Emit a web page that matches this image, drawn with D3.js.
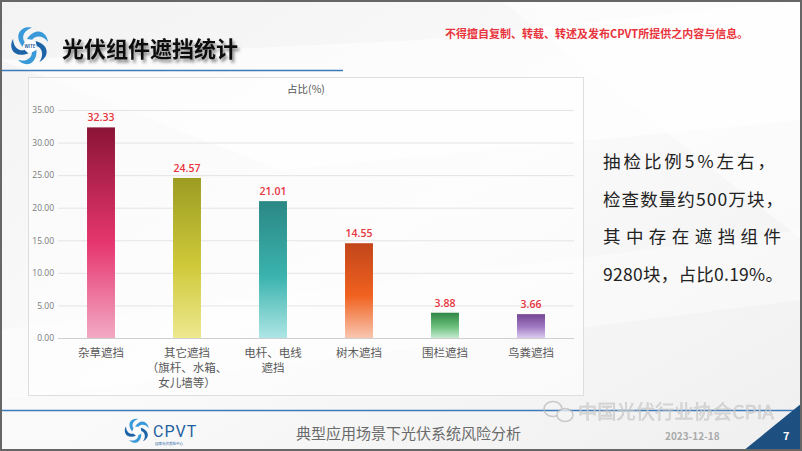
<!DOCTYPE html>
<html>
<head>
<meta charset="utf-8">
<script src="https://cdn.jsdelivr.net/npm/d3@7"></script>
<style>
  body { margin: 0; background: #fff; }
  svg { display: block; font-family: "Noto Sans CJK SC", "Noto Sans", sans-serif; }
</style>
</head>
<body>
<div id="chart"></div>
<script>
var categories = [
  ["杂草遮挡"],
  ["其它遮挡", "（旗杆、水箱、", "女儿墙等）"],
  ["电杆、电线", "遮挡"],
  ["树木遮挡"],
  ["围栏遮挡"],
  ["鸟粪遮挡"]
];
var values = [32.33, 24.57, 21.01, 14.55, 3.88, 3.66];
var yTicks = [0, 5, 10, 15, 20, 25, 30, 35];
var barColors = [
  ["#8a1436", "#e6366f", "#f2a9c4"],
  ["#9c9c22", "#cfc93a", "#eee890"],
  ["#2a8784", "#3bb3ae", "#aee6e5"],
  ["#c2461b", "#f0611f", "#f9c6b0"],
  ["#2f8646", "#6cbf7c", "#c4ead0"],
  ["#744593", "#a27cc4", "#dccbee"]
];
var noteLines = ["抽检比例5%左右，", "检查数量约500万块，", "其中存在遮挡组件", "9280块，占比0.19%。"];

var svgWidth = 802;
var svgHeight = 451;

var svg = d3.select("#chart")
  .append("svg")
  .attr("width", svgWidth)
  .attr("height", svgHeight);

var defs = svg.append("defs");

// page background
var bg = defs.append("linearGradient").attr("id", "bg")
  .attr("x1", "0").attr("y1", "0").attr("x2", "1").attr("y2", "1");
bg.append("stop").attr("offset", "0").attr("stop-color", "#f3f3f3");
bg.append("stop").attr("offset", "0.5").attr("stop-color", "#fafafa");
bg.append("stop").attr("offset", "1").attr("stop-color", "#efefef");

svg.append("rect").attr("width", svgWidth).attr("height", svgHeight).attr("fill", "url(#bg)");
svg.append("path").attr("d", "M0,60 L420,40 L802,0 L802,120 L280,170 Z").attr("fill", "#ffffff").attr("opacity", 0.6);
svg.append("path").attr("d", "M500,0 L802,0 L802,240 Z").attr("fill", "#ffffff").attr("opacity", 0.5);
svg.append("path").attr("d", "M0,330 L802,230 L802,300 L0,400 Z").attr("fill", "#ffffff").attr("opacity", 0.4);

// logo: ring of blue swirls
function drawLogo(g, s) {
  d3.range(5).forEach(function(i) {
    g.append("path")
      .attr("d", `M${-3*s},${-7*s} C${6*s},${-20*s} ${17*s},${-14*s} ${18*s},${-4*s} C${13*s},${-11*s} ${5*s},${-11*s} ${2*s},${-6*s} Z`)
      .attr("fill", i % 2 ? "#1d63a8" : "#3a9ad9")
      .attr("transform", "rotate(" + (i * 72) + ")");
  });
  g.append("circle").attr("r", 6.5 * s).attr("fill", "#fff");
}

var logo = svg.append("g").attr("transform", "translate(30,46)");
drawLogo(logo, 1);
logo.append("text").attr("text-anchor", "middle").attr("y", 2).attr("font-size", 4.5)
  .attr("font-weight", "bold").attr("fill", "#1f5f9f").text("WITE");

defs.append("filter").attr("id", "shadow")
  .append("feDropShadow").attr("dx", 2).attr("dy", 3).attr("stdDeviation", 1.5)
  .attr("flood-color", "#000").attr("flood-opacity", 0.45);

svg.append("text").attr("x", 62).attr("y", 57)
  .attr("font-size", 22).attr("font-weight", "bold").attr("fill", "#111")
  .attr("filter", "url(#shadow)")
  .text("光伏组件遮挡统计");

svg.append("line").attr("x1", 0).attr("x2", 343).attr("y1", 70.5).attr("y2", 70.5)
  .attr("stroke", "#3d7ab8").attr("stroke-width", 1.5);

svg.append("text").attr("x", 445).attr("y", 38)
  .attr("font-size", 11).attr("font-weight", "bold").attr("fill", "#e8343c")
  .text("不得擅自复制、转载、转述及发布CPVT所提供之内容与信息。");

// chart panel
svg.append("rect").attr("x", 28.5).attr("y", 77.5).attr("width", 555).attr("height", 318)
  .attr("fill", "#ffffff").attr("fill-opacity", 0.55).attr("stroke", "#dedede");

var plot = { left: 58, right: 574, top: 110, bottom: 338 };

var x = d3.scaleBand()
  .domain(d3.range(categories.length))
  .range([plot.left, plot.right])
  .paddingInner(0.675)
  .paddingOuter(0.3375);

var y = d3.scaleLinear()
  .domain([0, 35])
  .range([plot.bottom, plot.top]);

var yAxis = d3.axisLeft(y)
  .tickValues(yTicks)
  .tickSize(-(plot.right - plot.left))
  .tickPadding(4)
  .tickFormat(d3.format(".2f"));

var yG = svg.append("g")
  .attr("transform", `translate(${plot.left}, 0)`)
  .call(yAxis);
yG.select(".domain").remove();
yG.selectAll(".tick line").attr("stroke", "#e4e4e4");
yG.selectAll(".tick text").attr("fill", "#7a7a7a").attr("font-size", 8.5)
  .attr("font-family", "Open Sans, sans-serif");
yG.selectAll(".tick").filter(d => d === 0).select("line").attr("stroke", "#cfcfcf");

svg.append("text").attr("x", (plot.left + plot.right) / 2 - 10).attr("y", 93)
  .attr("text-anchor", "middle").attr("font-size", 10.5).attr("fill", "#555")
  .text("占比(%)");

barColors.forEach(function(c, i) {
  var g = defs.append("linearGradient").attr("id", "bar" + i)
    .attr("x1", 0).attr("y1", 0).attr("x2", 0).attr("y2", 1);
  g.append("stop").attr("offset", "0").attr("stop-color", c[0]);
  g.append("stop").attr("offset", "0.55").attr("stop-color", c[1]);
  g.append("stop").attr("offset", "1").attr("stop-color", c[2]);
});

svg.selectAll(".bar")
  .data(values)
  .enter()
  .append("rect")
  .attr("class", "bar")
  .attr("x", (d, i) => x(i))
  .attr("y", d => y(d))
  .attr("width", x.bandwidth())
  .attr("height", d => y(0) - y(d))
  .attr("fill", (d, i) => `url(#bar${i})`);

svg.selectAll(".val")
  .data(values)
  .enter()
  .append("text")
  .attr("class", "val")
  .attr("x", (d, i) => x(i) + x.bandwidth() / 2)
  .attr("y", d => y(d) - 6)
  .attr("text-anchor", "middle")
  .attr("font-size", 10.5)
  .attr("font-weight", 600)
  .attr("font-family", "Open Sans, sans-serif")
  .attr("fill", "#e8343c")
  .text(d => d.toFixed(2));

var catG = svg.selectAll(".cat")
  .data(categories)
  .enter()
  .append("text")
  .attr("class", "cat")
  .attr("text-anchor", "middle")
  .attr("font-size", 11.5)
  .attr("fill", "#595959");
catG.selectAll("tspan")
  .data((d, i) => d.map(t => ({ t: t, i: i })))
  .enter()
  .append("tspan")
  .attr("x", d => x(d.i) + x.bandwidth() / 2)
  .attr("y", (d, j) => 357 + j * 15)
  .text(d => d.t);

// side note
var note = svg.append("g");
var noteLen = [172, 180, 178, 180];
noteLines.forEach(function(t, i) {
  note.append("text")
    .attr("x", 603).attr("y", 168 + i * 37.5)
    .attr("font-size", 17.5).attr("fill", "#222")
    .attr("textLength", noteLen[i]).attr("lengthAdjust", "spacing")
    .text(t);
});

// footer
svg.append("line").attr("x1", 0).attr("x2", 802).attr("y1", 410.5).attr("y2", 410.5)
  .attr("stroke", "#3d7ab8").attr("stroke-width", 1.5);

var flogo = svg.append("g").attr("transform", "translate(137,431)");
drawLogo(flogo, 0.65);
svg.append("text").attr("x", 153).attr("y", 437).attr("font-size", 16)
  .attr("font-family", "Roboto, sans-serif").attr("fill", "#1f5f9f").attr("letter-spacing", 1)
  .text("CPVT");
svg.append("text").attr("x", 155).attr("y", 445).attr("font-size", 3.5).attr("fill", "#1f5f9f")
  .text("国家光伏质检中心");

svg.append("text").attr("x", 296).attr("y", 439).attr("font-size", 15).attr("fill", "#6a6a6a")
  .text("典型应用场景下光伏系统风险分析");

// watermark
var wm = svg.append("g").attr("opacity", 0.75);
wm.append("ellipse").attr("cx", 553).attr("cy", 409).attr("rx", 9).attr("ry", 7.5)
  .attr("fill", "none").attr("stroke", "#bbb").attr("stroke-width", 1.5);
wm.append("ellipse").attr("cx", 565).attr("cy", 415).attr("rx", 8).attr("ry", 6.5)
  .attr("fill", "#f5f5f5").attr("stroke", "#bbb").attr("stroke-width", 1.5);
wm.append("text").attr("x", 578).attr("y", 419).attr("font-size", 19).attr("fill", "#d0d0d0")
  .attr("stroke", "#b8b8b8").attr("stroke-width", 0.4)
  .attr("textLength", 196).attr("lengthAdjust", "spacingAndGlyphs")
  .text("中国光伏行业协会CPIA");

svg.append("text").attr("x", 665).attr("y", 440).attr("font-size", 10).attr("font-weight", "bold")
  .attr("fill", "#aaa").text("2023-12-18");

svg.append("path").attr("d", "M743,451 L802,403 L802,451 Z").attr("fill", "#1d4f80");
svg.append("text").attr("x", 783).attr("y", 440).attr("font-size", 11).attr("font-weight", "bold")
  .attr("fill", "#fff").text("7");

// frame
svg.append("rect").attr("x", 1).attr("y", 1).attr("width", 800).attr("height", 449)
  .attr("fill", "none").attr("stroke", "#666").attr("stroke-width", 2);
</script>
</body>
</html>
